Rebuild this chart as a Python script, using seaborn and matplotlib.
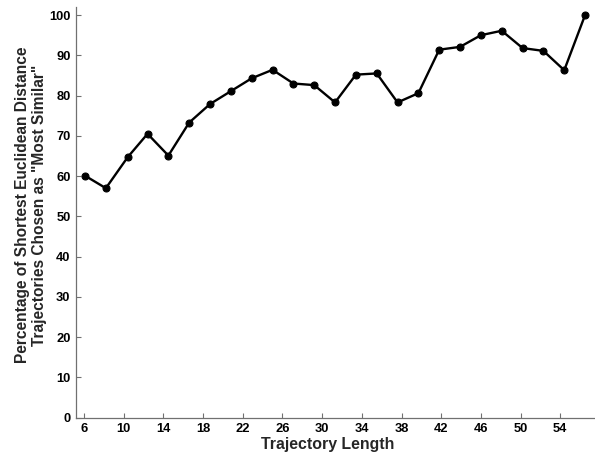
import matplotlib
matplotlib.use("Agg")
import matplotlib.pyplot as plt
import seaborn as sns
import pandas as pd

# Data
trajectory_length = [6.1, 8.2, 10.4, 12.4, 14.5, 16.6, 18.7, 20.8, 22.9, 25.0,
                     27.1, 29.2, 31.3, 33.4, 35.5, 37.6, 39.7, 41.8, 43.9, 46.0,
                     48.1, 50.2, 52.3, 54.4, 56.5]
percentage = [60.1, 57.0, 64.7, 70.5, 65.1, 73.3, 77.9, 81.1, 84.3, 86.4,
              83.0, 82.6, 78.3, 85.2, 85.5, 78.3, 80.6, 91.4, 92.1, 95.0,
              96.1, 91.8, 91.1, 86.3, 100.0]
x_ticks = [6, 10, 14, 18, 22, 26, 30, 34, 38, 42, 46, 50, 54]
y_ticks = [0, 10, 20, 30, 40, 50, 60, 70, 80, 90, 100]

x_label = "Trajectory Length"
y_label = "Percentage of Shortest Euclidean Distance\nTrajectories Chosen as \"Most Similar\""

sns.set_style("white")
plt.rcParams['font.family'] = ['Liberation Sans', 'DejaVu Sans']

fig = plt.figure(figsize=(5.95, 4.54), dpi=100)
ax = fig.add_axes([76 / 595, 36.3 / 454, 519 / 595, 410.7 / 454])

df = pd.DataFrame({"length": trajectory_length, "pct": percentage})
sns.lineplot(data=df, x="length", y="pct", ax=ax, color="black",
             linewidth=1.7, marker="o", markersize=5, markeredgecolor="black",
             markeredgewidth=0.8)

ax.set_xlim(5.19, 57.5)
ax.set_ylim(0, 102)
ax.set_xticks(x_ticks)
ax.set_yticks(y_ticks)
ax.set_xticklabels([str(t) for t in x_ticks], fontweight="bold")
ax.set_yticklabels([str(t) for t in y_ticks], fontweight="bold")
ax.tick_params(axis="both", direction="in", length=3.5, width=0.8,
               color="#707070", labelcolor="black", labelsize=9.3, pad=4,
               bottom=True, left=True, top=False, right=False)

for side in ["top", "right"]:
    ax.spines[side].set_visible(False)
for side in ["left", "bottom"]:
    ax.spines[side].set_color("#707070")
    ax.spines[side].set_linewidth(0.9)

ax.set_xlabel(x_label, fontsize=11.4, fontweight="bold")
ax.set_ylabel(y_label, fontsize=11.2, fontweight="bold", linespacing=1.2)
ax.xaxis.set_label_coords(0.484, -0.047)
ax.yaxis.set_label_coords(-0.056, 0.518)

fig.savefig("out.png", dpi=100)
